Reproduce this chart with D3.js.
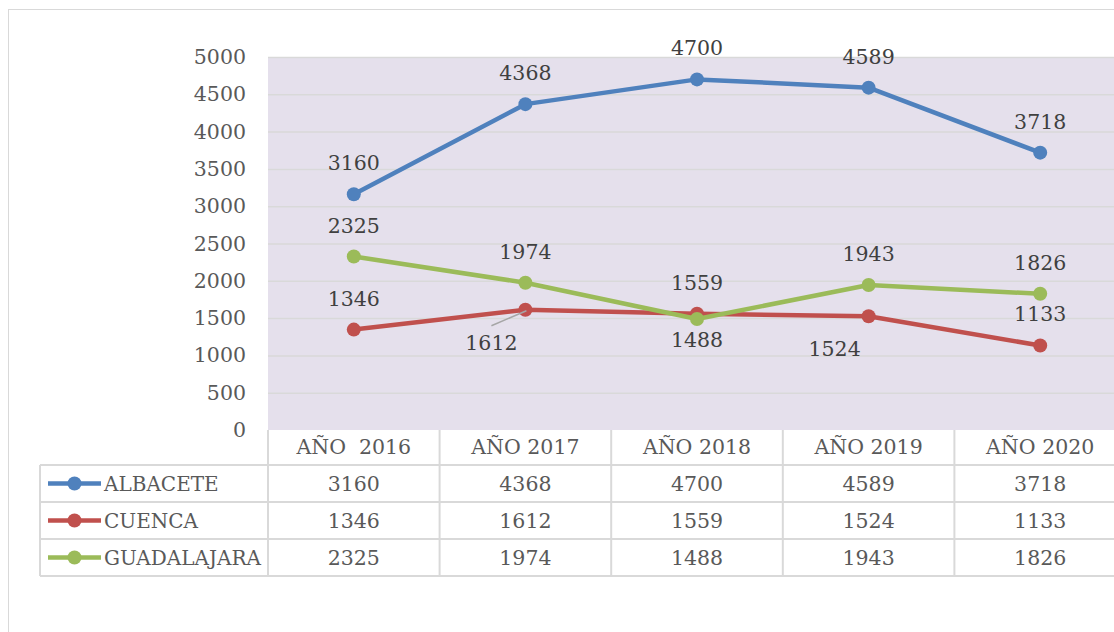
<!DOCTYPE html>
<html lang="es">
<head>
<meta charset="UTF-8">
<title>Albacete, Cuenca, Guadalajara 2016-2020</title>
<script src="https://d3js.org/d3.v7.min.js"></script>
<style>
  body { margin: 0; padding: 0; background: #fff; overflow: hidden; }
  svg { display: block; font-family: "DejaVu Serif", "Liberation Serif", serif; }
</style>
</head>
<body>
<svg id="chart"></svg>
<script>
const years = ["AÑO  2016", "AÑO 2017", "AÑO 2018", "AÑO 2019", "AÑO 2020"];
const yTicks = [0, 500, 1000, 1500, 2000, 2500, 3000, 3500, 4000, 4500, 5000];

const albacete = [3160, 4368, 4700, 4589, 3718];
const cuenca = [1346, 1612, 1559, 1524, 1133];
const guadalajara = [2325, 1974, 1488, 1943, 1826];

const seriesNames = ["ALBACETE", "CUENCA", "GUADALAJARA"];
const seriesColors = ["#4f81bd", "#c0504d", "#9bbb59"];
// where each data label sits relative to its point
const labelPlace = [
  ["t", "t", "t", "t", "t"],
  ["t", "bl", "t", "bl", "t"],
  ["t", "t", "b", "t", "t"]
];

const W = 1114, H = 632;
const plot = { left: 268, top: 57, bottom: 430, right: 1126 };
const rowH = 37;

const svg = d3.select("#chart").attr("width", W).attr("height", H);

// chart area border
svg.append("rect")
  .attr("x", 8.5).attr("y", 9.5)
  .attr("width", W + 20).attr("height", H + 20)
  .attr("fill", "#fff").attr("stroke", "#d9d9d9");

const x = d3.scaleBand().domain(years).range([plot.left, plot.right]);
const y = d3.scaleLinear().domain([0, 5000]).range([plot.bottom, plot.top]);

svg.append("rect")
  .attr("x", plot.left).attr("y", plot.top)
  .attr("width", plot.right - plot.left).attr("height", plot.bottom - plot.top)
  .attr("fill", "#e5e0ec");

// gridlines + y labels
const yAxis = svg.append("g")
  .attr("transform", `translate(${plot.left},0)`)
  .call(d3.axisLeft(y).tickValues(yTicks).tickFormat(d3.format("d"))
    .tickSize(-(plot.right - plot.left)).tickPadding(22));
yAxis.select(".domain").remove();
yAxis.selectAll(".tick line").attr("stroke", "#d9d9d9").attr("stroke-width", 1.5);
yAxis.selectAll(".tick").filter(d => d === 0).select("line").remove();
yAxis.selectAll(".tick text")
  .attr("fill", "#595959").style("font-size", "20.5px")
  .style("font-family", "'DejaVu Serif', serif");

// data table
const table = svg.append("g");
const tableTop = plot.bottom;
const tableLeft = 40;
const lineCol = "#d9d9d9";

// horizontal lines
for (let r = 1; r <= seriesNames.length + 1; r++) {
  table.append("line")
    .attr("x1", tableLeft).attr("x2", W)
    .attr("y1", tableTop + 35 + (r - 1) * rowH).attr("y2", tableTop + 35 + (r - 1) * rowH)
    .attr("stroke", lineCol).attr("stroke-width", 2);
}
const tableBottom = tableTop + 35 + seriesNames.length * rowH;
// vertical lines
table.append("line")
  .attr("x1", tableLeft).attr("x2", tableLeft)
  .attr("y1", tableTop + 35).attr("y2", tableBottom)
  .attr("stroke", lineCol).attr("stroke-width", 2);
years.forEach(yr => {
  table.append("line")
    .attr("x1", x(yr)).attr("x2", x(yr))
    .attr("y1", tableTop).attr("y2", tableBottom)
    .attr("stroke", lineCol).attr("stroke-width", 2);
});

// header
table.selectAll("text.hdr")
  .data(years).enter().append("text")
  .attr("class", "hdr")
  .attr("x", d => x(d) + x.bandwidth() / 2)
  .attr("y", tableTop + 17)
  .attr("text-anchor", "middle").attr("dominant-baseline", "central")
  .attr("fill", "#595959").style("font-size", "20.5px")
  .style("white-space", "pre")
  .text(d => d);

const allSeries = [albacete, cuenca, guadalajara];

allSeries.forEach((vals, si) => {
  const cy = tableTop + 35 + si * rowH + rowH / 2;
  // legend key
  table.append("line")
    .attr("x1", 48).attr("x2", 101).attr("y1", cy).attr("y2", cy)
    .attr("stroke", seriesColors[si]).attr("stroke-width", 4.5);
  table.append("circle")
    .attr("cx", 74.5).attr("cy", cy).attr("r", 7)
    .attr("fill", seriesColors[si]);
  table.append("text")
    .attr("x", 104).attr("y", cy)
    .attr("dominant-baseline", "central")
    .attr("fill", "#595959").style("font-size", "20px")
    .attr("textLength", si === 2 ? 157 : null)
    .text(seriesNames[si]);
  vals.forEach((v, i) => {
    table.append("text")
      .attr("x", x(years[i]) + x.bandwidth() / 2).attr("y", cy)
      .attr("text-anchor", "middle").attr("dominant-baseline", "central")
      .attr("fill", "#595959").style("font-size", "20.5px")
      .text(v);
  });
});

// lines
const cx = i => x(years[i]) + x.bandwidth() / 2;
const line = d3.line().x((d, i) => cx(i)).y(d => y(d));

allSeries.forEach((vals, si) => {
  svg.append("path")
    .datum(vals)
    .attr("d", line)
    .attr("fill", "none")
    .attr("stroke", seriesColors[si])
    .attr("stroke-width", 4.5)
    .attr("stroke-linejoin", "round");
  svg.selectAll(null)
    .data(vals).enter().append("circle")
    .attr("cx", (d, i) => cx(i))
    .attr("cy", d => y(d))
    .attr("r", 7)
    .attr("fill", seriesColors[si]);
});

// leader line for CUENCA 2017
svg.append("line")
  .attr("x1", cx(1) + 1).attr("y1", y(cuenca[1]) + 1)
  .attr("x2", cx(1) - 34).attr("y2", y(cuenca[1]) + 16)
  .attr("stroke", "#a6a6a6").attr("stroke-width", 1.5);

// data labels
allSeries.forEach((vals, si) => {
  vals.forEach((v, i) => {
    const p = labelPlace[si][i];
    let dx = 0, dy = -31;
    if (p === "b") dy = 21;
    if (p === "bl") { dx = -34; dy = 33; }
    svg.append("text")
      .attr("x", cx(i) + dx).attr("y", y(v) + dy)
      .attr("text-anchor", "middle").attr("dominant-baseline", "central")
      .attr("fill", "#404040").style("font-size", "20.5px")
      .text(v);
  });
});
</script>
</body>
</html>
